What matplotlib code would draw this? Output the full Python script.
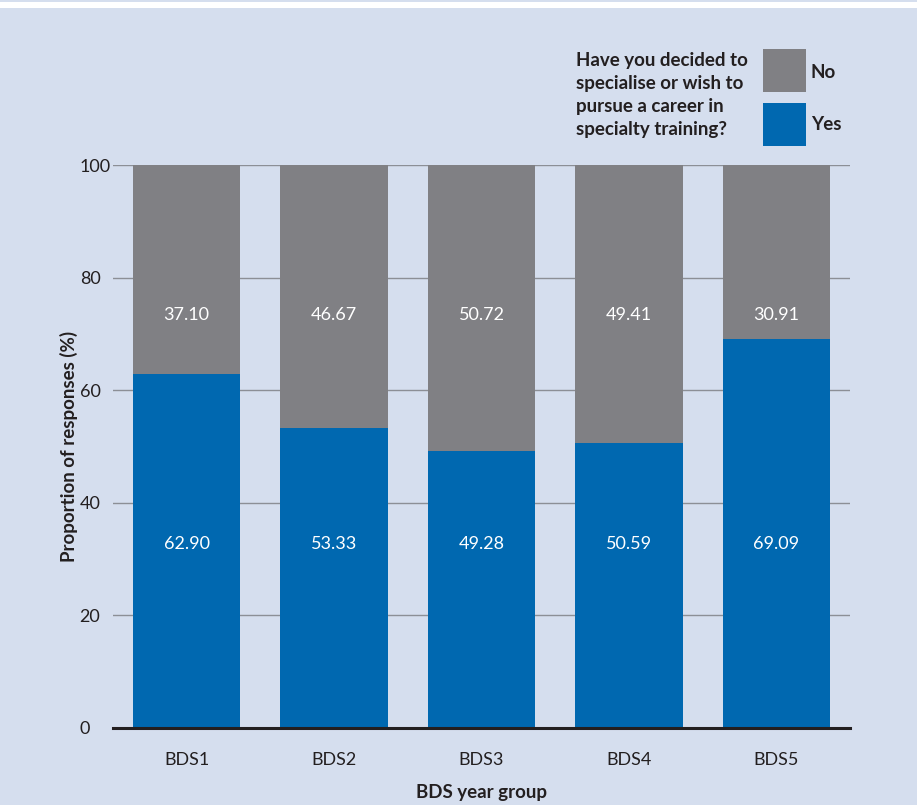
import matplotlib.pyplot as plt
from matplotlib.patches import Rectangle

groups = ["BDS1", "BDS2", "BDS3", "BDS4", "BDS5"]
yes_vals = [62.90, 53.33, 49.28, 50.59, 69.09]
no_vals = [37.10, 46.67, 50.72, 49.41, 30.91]

bg = "#d5deee"
grey = "#808084"
blue = "#0068b0"
txt = "#231f20"

plt.rcParams['font.family'] = ['Lato', 'DejaVu Sans']

fig = plt.figure(figsize=(9.17, 8.05), dpi=100)
fig.patch.set_facecolor(bg)
# white strip at the very top
fig.patches.append(Rectangle((0, 0.9905), 1, 0.0075, transform=fig.transFigure,
                             facecolor="white", edgecolor="none", zorder=0))

ax = fig.add_axes([0.1232, 0.0957, 0.8038, 0.6993])
ax.set_facecolor(bg)

x = range(len(groups))
ax.bar(x, yes_vals, width=0.728, color=blue, zorder=3)
ax.bar(x, no_vals, width=0.728, bottom=yes_vals, color=grey, zorder=3)

for i in x:
    ax.text(i, 32.7, f"{yes_vals[i]:.2f}", color="white", ha="center", va="center",
            fontsize=13, zorder=4)
    ax.text(i, 73.4, f"{no_vals[i]:.2f}", color="white", ha="center", va="center",
            fontsize=13, zorder=4)

ax.set_xlim(-0.5, 4.5)
ax.set_ylim(0, 100)
ax.set_yticks([0, 20, 40, 60, 80, 100])
ax.yaxis.grid(True, color="#8c8f96", linewidth=1.0, zorder=1)
ax.set_xticks(list(x))
ax.set_xticklabels(groups)
ax.tick_params(axis="both", length=0, labelsize=13, colors=txt)
ax.tick_params(axis="x", pad=17)
ax.tick_params(axis="y", pad=24)
for lab in ax.get_yticklabels():
    lab.set_horizontalalignment("left")
for s in ["top", "right", "left"]:
    ax.spines[s].set_visible(False)
ax.spines["bottom"].set_color(txt)
ax.spines["bottom"].set_linewidth(2.2)
ax.spines["bottom"].set_zorder(5)

ax.set_ylabel("Proportion of responses (%)", fontsize=13.5, fontweight="bold", color=txt)
ax.yaxis.set_label_coords(-0.048, 0.5)
ax.set_xlabel("BDS year group", fontsize=13.5, fontweight="bold", color=txt)
ax.xaxis.set_label_coords(0.5, -0.0995)

# legend block
fig.text(576 / 917, 1 - 52 / 805,
         "Have you decided to\nspecialise or wish to\npursue a career in\nspecialty training?",
         fontsize=13.5, fontweight="bold", color=txt, ha="left", va="top", linespacing=1.44)
fig.patches.append(Rectangle((763 / 917, 1 - 92 / 805), 43 / 917, 43 / 805,
                             transform=fig.transFigure, facecolor=grey, edgecolor="none"))
fig.patches.append(Rectangle((763 / 917, 1 - 146 / 805), 43 / 917, 43 / 805,
                             transform=fig.transFigure, facecolor=blue, edgecolor="none"))
fig.text(811 / 917, 1 - 72 / 805, "No", fontsize=13.5, fontweight="bold", color=txt,
         ha="left", va="center")
fig.text(811 / 917, 1 - 124 / 805, "Yes", fontsize=13.5, fontweight="bold", color=txt,
         ha="left", va="center")

fig.savefig("out.png", dpi=100, facecolor=bg)
